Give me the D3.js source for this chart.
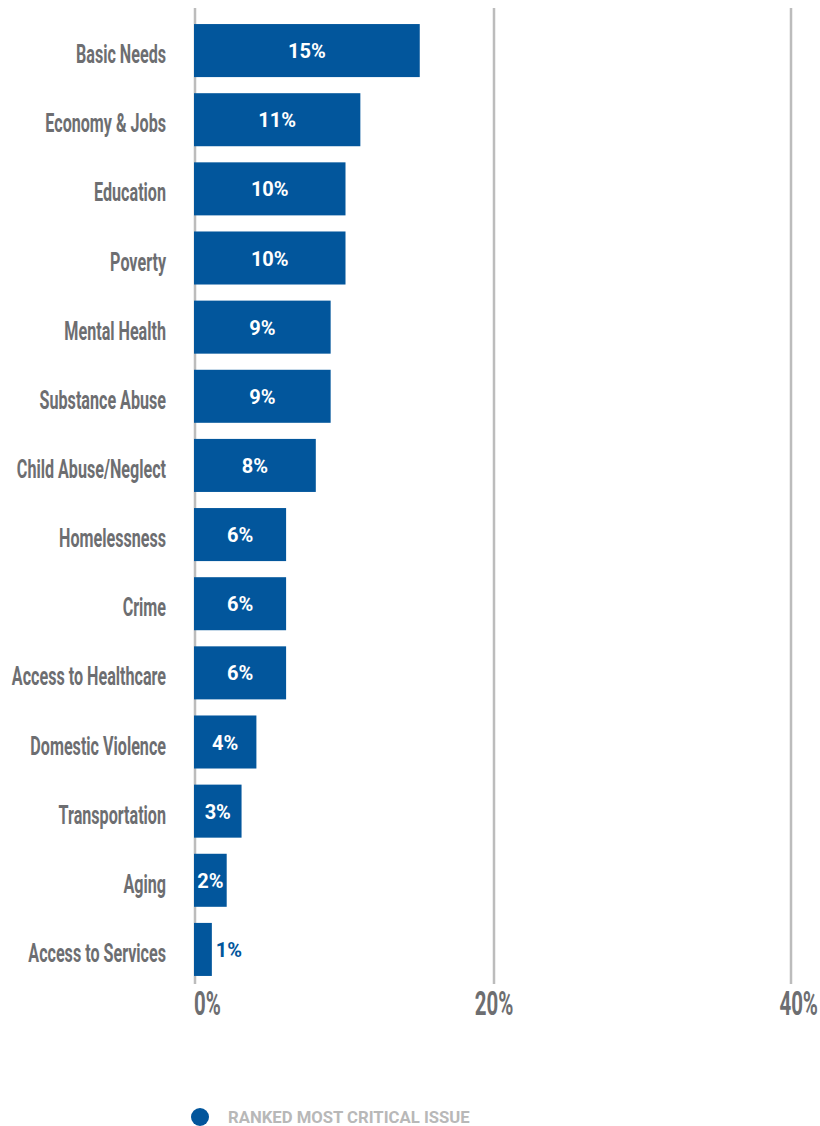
<!DOCTYPE html>
<html>
<head>
<meta charset="utf-8">
<script src="https://cdn.jsdelivr.net/npm/d3@7"></script>
<style>
  html, body { margin: 0; padding: 0; background: #ffffff; }
  svg { display: block; }
</style>
</head>
<body>
<svg id="chart" width="820" height="1126"></svg>
<script>
// Issue categories, ranked
const categories = [
  "Basic Needs", "Economy & Jobs", "Education", "Poverty", "Mental Health",
  "Substance Abuse", "Child Abuse/Neglect", "Homelessness", "Crime",
  "Access to Healthcare", "Domestic Violence", "Transportation", "Aging",
  "Access to Services"
];
// Share of respondents ranking each issue as most critical (%)
const values = [15, 11, 10, 10, 9, 9, 8, 6, 6, 6, 4, 3, 2, 1];
const tickValues = [0, 20, 40];
const tickLabels = ["0%", "20%", "40%"];
const seriesName = "RANKED MOST CRITICAL ISSUE";

const BLUE = "#02569c";
const GREY = "#6d6e71";
const GRID = "#bcbcbc";
const CONDENSE = 0.62;

const svg = d3.select("#chart");

const x = d3.scaleLinear().domain([0, 40]).range([197, 791]);
const y = d3.scaleBand().domain(categories).range([16, 984]).paddingInner(0.233).paddingOuter(0.1165);

// vertical gridlines
svg.append("g").selectAll("line").data(tickValues).join("line")
  .attr("x1", d => x(d) - (d === 0 ? 2 : 0)).attr("x2", d => x(d) - (d === 0 ? 2 : 0))
  .attr("y1", 8).attr("y2", 984)
  .attr("stroke", GRID).attr("stroke-width", 2.5);

// bars
svg.append("g").selectAll("rect").data(values).join("rect")
  .attr("x", x(0) - 3)
  .attr("y", (d, i) => y(categories[i]))
  .attr("width", d => x(d) - x(0) + 3)
  .attr("height", y.bandwidth())
  .attr("fill", BLUE);

// value labels: inside when they fit, otherwise just past the bar end
svg.append("g").selectAll("text").data(values).join("text")
  .attr("x", d => d >= 2 ? (x(0) - 3 + x(d)) / 2 : x(d) + 4)
  .attr("y", (d, i) => y(categories[i]) + y.bandwidth() / 2 + 7.5)
  .attr("text-anchor", d => d >= 2 ? "middle" : "start")
  .attr("font-family", "Roboto, sans-serif")
  .attr("font-weight", 700)
  .attr("font-size", 20)
  .attr("fill", d => d >= 2 ? "#ffffff" : BLUE)
  .text(d => d + "%");

// category labels (condensed)
svg.append("g").selectAll("text").data(categories).join("text")
  .attr("transform", d => `translate(166,${y(d) + y.bandwidth() / 2 + 12.5}) scale(${CONDENSE},1)`)
  .attr("text-anchor", "end")
  .attr("font-family", "Roboto, sans-serif")
  .attr("font-weight", 700)
  .attr("font-size", 26)
  .attr("fill", GREY)
  .text(d => d);

// x-axis tick labels
const tickAnchor = ["start", "middle", "end"];
const tickX = [x(0) - 3, x(20), 818];
svg.append("g").selectAll("text").data(tickLabels).join("text")
  .attr("transform", (d, i) => `translate(${tickX[i]},1015) scale(${CONDENSE},1)`)
  .attr("text-anchor", (d, i) => tickAnchor[i])
  .attr("font-family", "Roboto, sans-serif")
  .attr("font-weight", 700)
  .attr("font-size", 33)
  .attr("fill", GREY)
  .text(d => d);

// legend
const legend = svg.append("g");
legend.append("circle").attr("cx", 200).attr("cy", 1117).attr("r", 9).attr("fill", BLUE);
legend.append("text")
  .attr("x", 228).attr("y", 1123)
  .attr("font-family", "Roboto, sans-serif")
  .attr("font-weight", 700)
  .attr("font-size", 16.7)
  .attr("fill", "#b8b8b8")
  .text(seriesName);
</script>
</body>
</html>
